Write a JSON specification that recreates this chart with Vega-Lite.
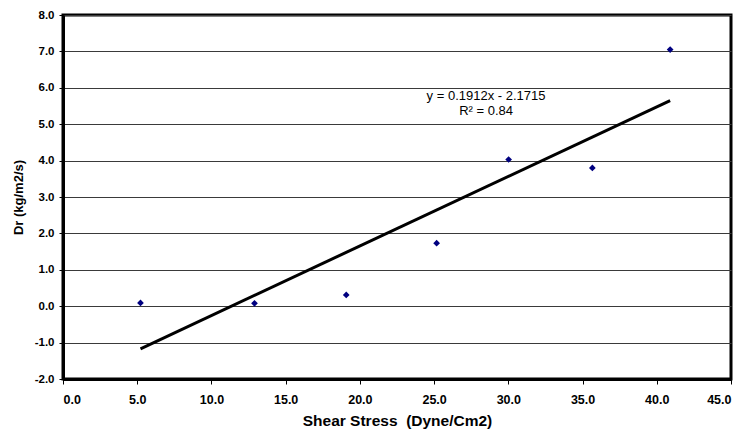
{
  "$schema": "https://vega.github.io/schema/vega-lite/v6.json",
  "width": 668,
  "height": 364,
  "autosize": {"type": "none"},
  "padding": {"left": 63, "top": 15, "right": 17, "bottom": 60},
  "background": "white",
  "view": {"stroke": "black", "strokeWidth": 3},
  "config": {
    "font": "Liberation Sans",
    "view": {"stroke": "black", "strokeWidth": 3}
  },
  "datasets": {
    "pts": [
      {"x": 5.22, "y": 0.09},
      {"x": 12.9, "y": 0.08},
      {"x": 19.08, "y": 0.31},
      {"x": 25.17, "y": 1.73},
      {"x": 30.02, "y": 4.03},
      {"x": 35.66, "y": 3.80},
      {"x": 40.9, "y": 7.05}
    ],
    "trend": [
      {"x": 5.22, "y": -1.17},
      {"x": 40.9, "y": 5.65}
    ],
    "labels": [
      {"x": 28.5, "y": 5.78, "t": "y = 0.1912x - 2.1715"},
      {"x": 28.5, "y": 5.36, "t": "R² = 0.84"}
    ]
  },
  "encoding": {
    "x": {
      "field": "x", "type": "quantitative",
      "scale": {"domain": [0, 45], "nice": false, "zero": false},
      "axis": {
        "values": [0, 5, 10, 15, 20, 25, 30, 35, 40, 45],
        "format": ".1f",
        "grid": false,
        "labelOverlap": false,
        "title": "Shear Stress\u00a0\u00a0(Dyne/Cm2)",
        "titleFont": "Liberation Sans", "titleFontSize": 15.5, "titleFontWeight": "bold", "titleColor": "black",
        "titlePadding": 8,
        "labelFont": "Liberation Sans", "labelFontSize": 12.5, "labelFontWeight": "bold", "labelColor": "black",
        "labelPadding": 9,
        "tickColor": "black", "tickSize": 5, "tickWidth": 1,
        "domainColor": "black", "domainWidth": 3
      }
    },
    "y": {
      "field": "y", "type": "quantitative",
      "scale": {"domain": [-2, 8], "nice": false, "zero": false},
      "axis": {
        "values": [-2, -1, 0, 1, 2, 3, 4, 5, 6, 7, 8],
        "tickCount": 11,
        "labelExpr": "datum.value < 0 ? '-' + format(abs(datum.value), '.1f') : format(datum.value, '.1f')",
        "labelOverlap": false,
        "grid": true, "gridColor": "#3a3a3a", "gridWidth": 1,
        "title": "Dr (kg/m2/s)",
        "titleFont": "Liberation Sans", "titleFontSize": 13, "titleFontWeight": "bold", "titleColor": "black",
        "titlePadding": 9,
        "labelFont": "Liberation Sans", "labelFontSize": 11.5, "labelFontWeight": "bold", "labelColor": "black",
        "labelPadding": 5,
        "tickColor": "black", "tickSize": 4, "tickWidth": 1,
        "domainColor": "black", "domainWidth": 3
      }
    }
  },
  "layer": [
    {
      "data": {"name": "pts"},
      "mark": {"type": "point", "shape": "diamond", "filled": true, "color": "#000080", "size": 45, "opacity": 1}
    },
    {
      "data": {"name": "trend"},
      "mark": {"type": "line", "color": "black", "strokeWidth": 3}
    },
    {
      "data": {"name": "labels"},
      "mark": {"type": "text", "font": "Liberation Sans", "fontSize": 13, "color": "black", "align": "center", "baseline": "middle"},
      "encoding": {
        "text": {"field": "t"}
      }
    }
  ]
}
